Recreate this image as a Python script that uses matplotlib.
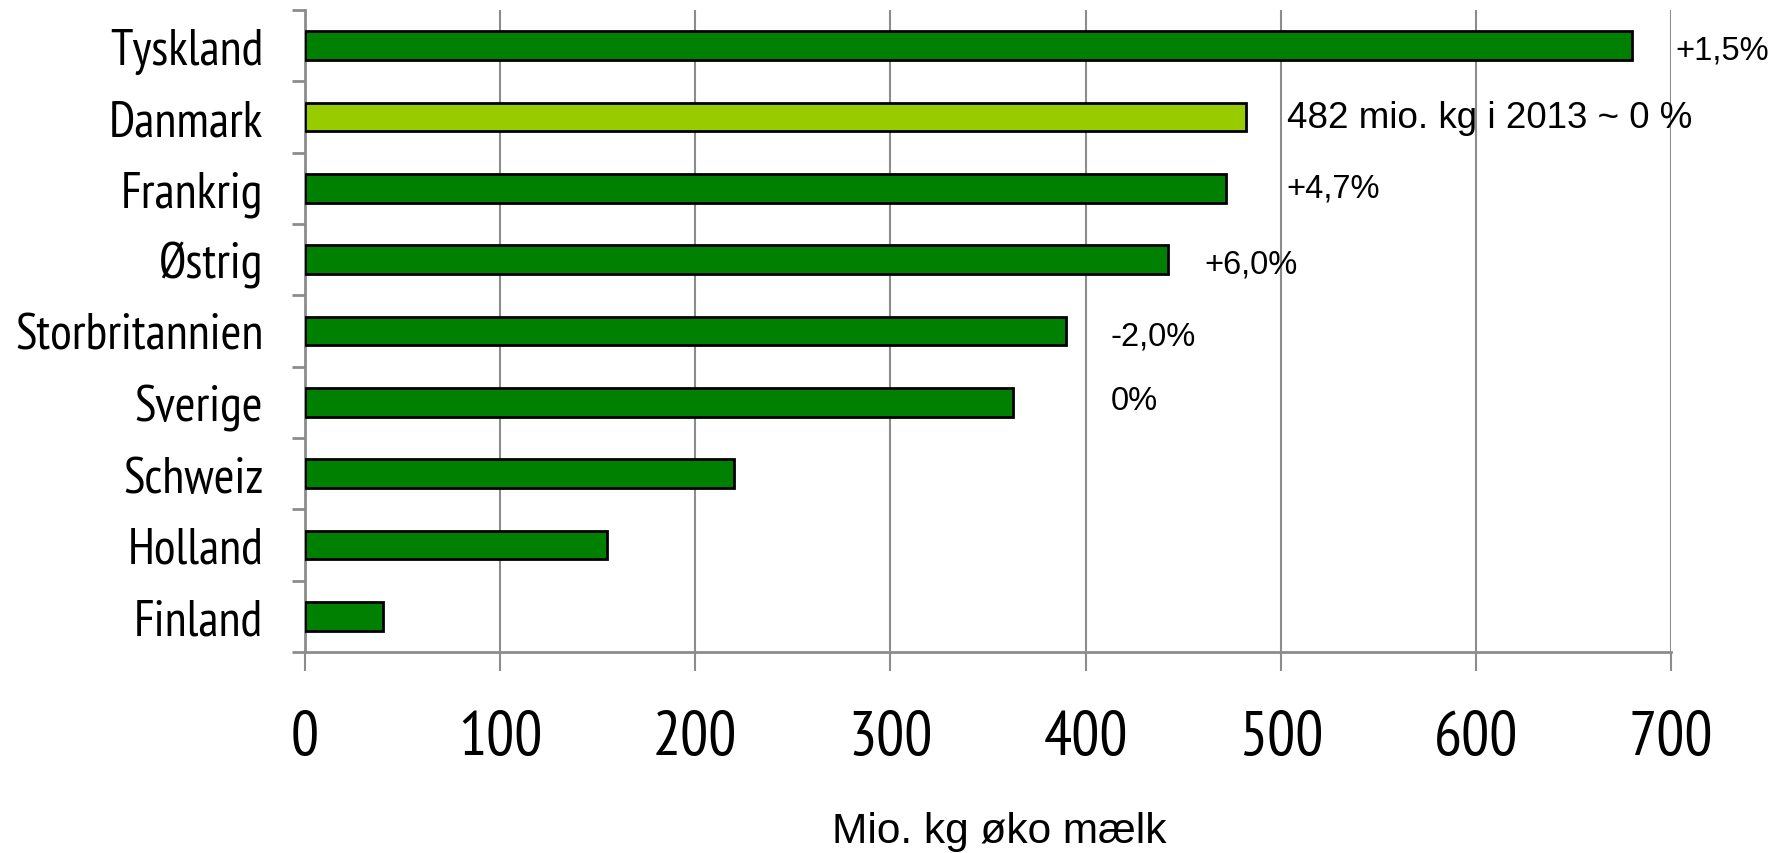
import numpy as np
import matplotlib
matplotlib.use('Agg')
import matplotlib.pyplot as plt
from matplotlib.ticker import MultipleLocator, FixedLocator

# Data
countries = ['Tyskland', 'Danmark', 'Frankrig', 'Østrig', 'Storbritannien',
             'Sverige', 'Schweiz', 'Holland', 'Finland']
milk = [680, 482, 472, 442, 390, 363, 220, 155, 40]
notes = ['+1,5%', '482 mio. kg i 2013 ~ 0 %', '+4,7%', '+6,0%', '-2,0%', '0%']
note_x = [702, 503, 503, 461, 413, 413]
note_y = [0.06, 1.0, 2.0, 3.06, 4.07, 4.97]

DARK = '#008000'
LIGHT = '#99CC00'
GRID = '#8c8c8c'
NARROW = ['PT Sans Narrow', 'Roboto Condensed', 'Archivo Narrow', 'DejaVu Sans']
ARIAL = ['Liberation Sans', 'DejaVu Sans']

fig = plt.figure(figsize=(17.77, 8.54), dpi=100)
ax = fig.add_axes([0.1716, 0.2354, 0.9404 - 0.1716, 0.9871 - 0.2354])

colors = [LIGHT if c == 'Danmark' else DARK for c in countries]
y = np.arange(len(countries))
ax.barh(y, milk, height=0.4, color=colors, edgecolor='black', linewidth=2, zorder=3)

ax.set_xlim(0, 700)
ax.set_ylim(len(countries) - 0.5, -0.5)

# grid + spines
ax.xaxis.set_major_locator(MultipleLocator(100))
ax.grid(axis='x', color=GRID, linewidth=1.5, zorder=0)
for s in ['top', 'right']:
    ax.spines[s].set_visible(False)
for s in ['left', 'bottom']:
    ax.spines[s].set_color(GRID)
    ax.spines[s].set_linewidth(2)

# y ticks: labels at centres, marks at boundaries
ax.set_yticks(y)
ax.set_yticklabels(countries, family=NARROW, fontsize=36)
ax.yaxis.set_minor_locator(FixedLocator(np.arange(-0.5, len(countries), 1.0)))
ax.tick_params(axis='y', which='major', length=0, pad=30)
ax.tick_params(axis='y', which='minor', length=9.5, width=2, color=GRID)

ax.tick_params(axis='x', which='major', length=14, width=1.5, color=GRID, pad=28)
for lab in ax.get_xticklabels():
    lab.set_family(NARROW)
    lab.set_fontsize(45)

ax.set_xlabel('Mio. kg øko mælk', family=ARIAL, fontsize=30.5)
ax.xaxis.set_label_coords(0.508, -0.248)

for i, (txt, xv, yv) in enumerate(zip(notes, note_x, note_y)):
    size = 26.5 if i == 1 else 23.5
    ax.text(xv, yv, txt, family=ARIAL, fontsize=size, ha='left', va='center',
            clip_on=False, zorder=4)

fig.savefig('out.png', dpi=100, facecolor='white')
plt.close(fig)
